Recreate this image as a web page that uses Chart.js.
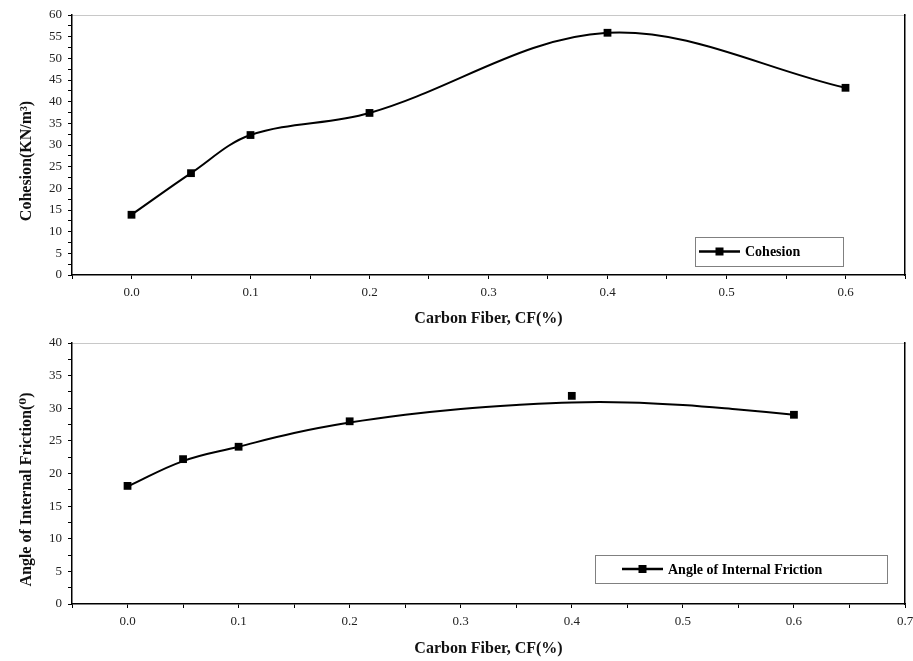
<!DOCTYPE html>
<html><head><meta charset="utf-8">
<script src="https://cdn.jsdelivr.net/npm/chart.js@4.4.1/dist/chart.umd.min.js"></script>
<style>body{margin:0;background:#fff} canvas{display:block}</style>
</head><body>
<canvas id="c1" width="913" height="335"></canvas>
<canvas id="c2" width="913" height="326"></canvas>
<script>
// ---- data ----
const cfPercent = [0.0, 0.05, 0.1, 0.2, 0.4, 0.6];
const cohesion = [13.9, 23.5, 32.3, 37.4, 55.9, 43.2];
const frictionAngle = [18.1, 22.2, 24.1, 28.0, 31.9, 29.0];
// fitted curve of the lower panel
const frictionFitX = [0, 0.05, 0.1, 0.15, 0.2, 0.25, 0.3, 0.35, 0.4, 0.45, 0.5, 0.55, 0.6];
const frictionFitY = [18.0, 21.9, 24.1, 26.2, 27.8, 29.0, 29.9, 30.5, 30.9, 30.9, 30.5, 29.8, 29.0];
const xLabelValues = [0.0, 0.1, 0.2, 0.3, 0.4, 0.5, 0.6, 0.7];
const yLabelStep = 5;

const serif = '"Liberation Serif", "DejaVu Serif", serif';
const NB = '\u00a0'.repeat(8);

const boxLegend = {
  id: 'boxLegend',
  afterDraw(chart, args, o) {
    const ctx = chart.ctx, a = chart.chartArea;
    const x = Math.round(a.right - o.right - o.width), y = Math.round(a.bottom - o.bottom - o.height);
    ctx.save();
    ctx.fillStyle = '#fff';
    ctx.fillRect(x, y, o.width, o.height);
    ctx.strokeStyle = '#808080'; ctx.lineWidth = 1;
    ctx.strokeRect(x + 0.5, y + 0.5, o.width, o.height);
    const cy = y + o.height / 2;
    ctx.strokeStyle = '#000'; ctx.lineWidth = 2.5;
    ctx.beginPath(); ctx.moveTo(x + o.lineStart, cy); ctx.lineTo(x + o.lineStart + o.lineLen, cy); ctx.stroke();
    ctx.fillStyle = '#000';
    ctx.fillRect(x + o.lineStart + o.lineLen / 2 - 4, cy - 4, 8, 8);
    ctx.font = 'bold 14px ' + serif; ctx.textBaseline = 'middle'; ctx.textAlign = 'left';
    ctx.fillText(chart.data.datasets[o.dataset].label, x + o.lineStart + o.lineLen + 5, cy + 1);
    ctx.restore();
  }
};

function xLabel(v) {
  const hit = xLabelValues.find(t => Math.abs(t - v) < 1e-6);
  return hit === undefined ? '' : hit.toFixed(1);
}

function noPad(s) { s.paddingTop = 0; s.paddingBottom = 0; s.paddingLeft = 0; s.paddingRight = 0; }

function makeScales(cfg) {
  return {
    x: {
      type: 'linear', position: 'bottom', min: -0.05, max: cfg.xMax,
      afterFit(s) { s.height = cfg.bottomH; noPad(s); },
      ticks: { stepSize: 0.05, autoSkip: false, maxRotation: 0, padding: cfg.tickPad,
               font: { family: serif, size: 13 }, color: '#222', callback: xLabel },
      grid: { display: true, drawOnChartArea: false, drawTicks: true, tickLength: 4, color: '#000', lineWidth: 1 },
      border: { display: true, color: '#000', width: 1.5 },
      title: { display: true, text: 'Carbon Fiber, CF(%)', color: '#111',
               font: { family: serif, size: 16, weight: 'bold' }, padding: { top: 0, bottom: cfg.titlePadB } }
    },
    x2: {
      type: 'linear', position: 'top', min: -0.05, max: cfg.xMax,
      afterFit(s) { s.height = cfg.topH; noPad(s); },
      ticks: { display: false }, grid: { display: false, drawTicks: false },
      border: { display: true, color: '#c8c8c8', width: 1 }
    },
    y: {
      type: 'linear', position: 'left', min: 0, max: cfg.yMax,
      afterFit(s) { s.width = 72; noPad(s); },
      ticks: { stepSize: 2.5, autoSkip: false, padding: 6, font: { family: serif, size: 13 }, color: '#222',
               callback: v => (Math.abs(v / yLabelStep - Math.round(v / yLabelStep)) < 1e-6 ? String(v) : '') },
      grid: { display: true, drawOnChartArea: false, drawTicks: true, tickLength: 4, color: '#000', lineWidth: 1 },
      border: { display: true, color: '#000', width: 1.5 },
      title: { display: true, text: cfg.yTitle + NB, color: '#111',
               font: { family: serif, size: 16, weight: 'bold' }, padding: { top: 17, bottom: 0 } }
    },
    y2: {
      type: 'linear', position: 'right', min: 0, max: cfg.yMax,
      afterFit(s) { s.width = 8; noPad(s); },
      ticks: { display: false }, grid: { display: false, drawTicks: false },
      border: { display: true, color: '#000', width: 1.5 }
    }
  };
}

const common = {
  responsive: false, animation: false, devicePixelRatio: 1,
  layout: { padding: 0 }
};

new Chart(document.getElementById('c1'), {
  type: 'line',
  data: {
    datasets: [{
      label: 'Cohesion',
      data: cfPercent.map((x, i) => ({ x, y: cohesion[i] })),
      borderColor: '#000', borderWidth: 2, tension: 0.35,
      pointStyle: 'rect', pointRadius: 5.5, pointBackgroundColor: '#000', pointBorderColor: '#000', pointBorderWidth: 0
    }]
  },
  options: Object.assign({}, common, {
    scales: makeScales({ xMax: 0.65, yMax: 60, bottomH: 60, topH: 15, tickPad: 6, titlePadB: 6.6, yTitle: 'Cohesion(KN/m³)' }),
    plugins: { legend: { display: false }, tooltip: { enabled: false },
      boxLegend: { dataset: 0, right: 62, bottom: 9, width: 148, height: 29, lineStart: 4, lineLen: 41 } }
  }),
  plugins: [boxLegend]
});

new Chart(document.getElementById('c2'), {
  type: 'line',
  data: {
    datasets: [{
      label: 'Angle of Internal Friction',
      data: cfPercent.map((x, i) => ({ x, y: frictionAngle[i] })),
      showLine: false,
      pointStyle: 'rect', pointRadius: 5.5, pointBackgroundColor: '#000', pointBorderColor: '#000', pointBorderWidth: 0
    }, {
      label: 'fit',
      data: frictionFitX.map((x, i) => ({ x, y: frictionFitY[i] })),
      borderColor: '#000', borderWidth: 2, tension: 0.4, pointRadius: 0
    }]
  },
  options: Object.assign({}, common, {
    scales: makeScales({ xMax: 0.7, yMax: 40, bottomH: 57, topH: 8, tickPad: 6, titlePadB: 2.6, yTitle: 'Angle of Internal Friction(⁰)' }),
    plugins: { legend: { display: false }, tooltip: { enabled: false },
      boxLegend: { dataset: 0, right: 18, bottom: 21, width: 292, height: 28, lineStart: 27, lineLen: 41 } }
  }),
  plugins: [boxLegend]
});
</script>
</body></html>
